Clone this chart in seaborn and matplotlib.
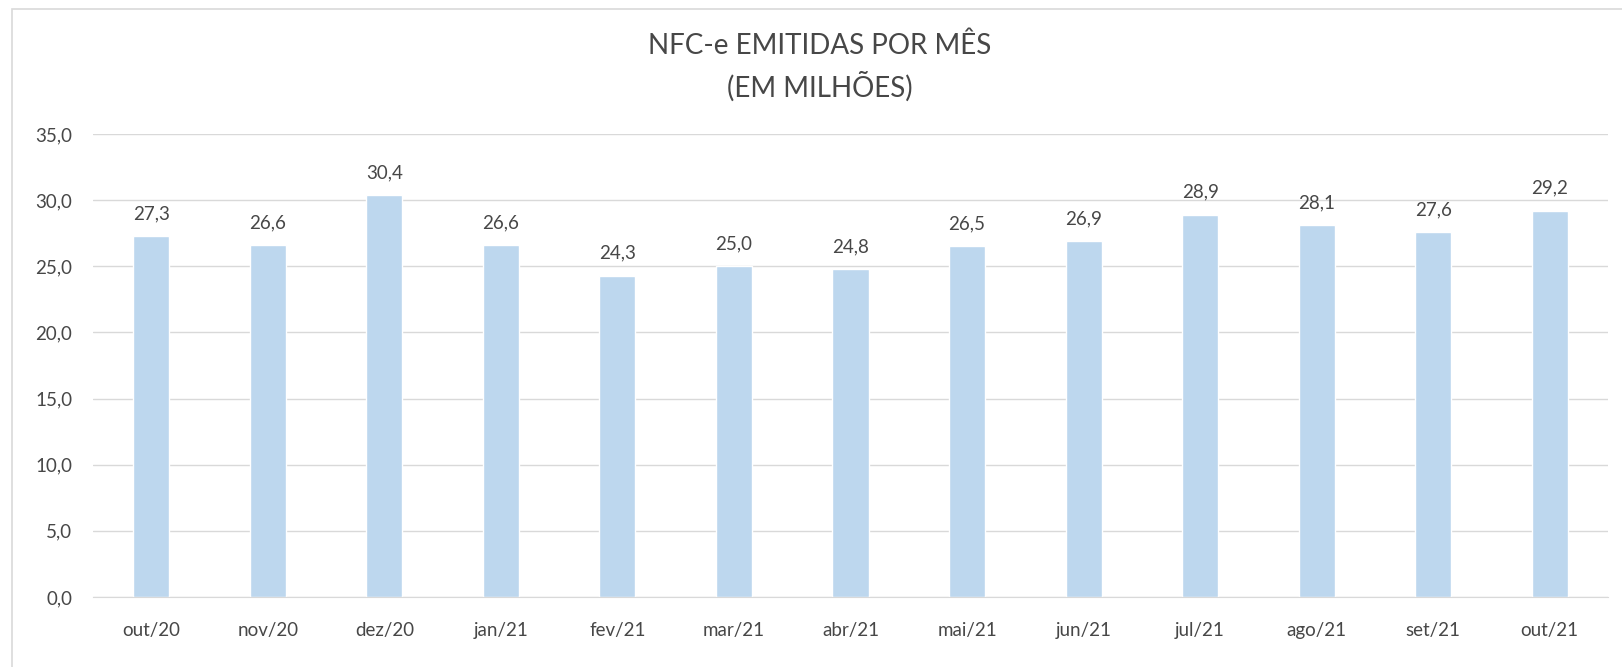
import pandas as pd
import seaborn as sns
import matplotlib.pyplot as plt
from matplotlib.patches import Rectangle

# dados do grafico
meses = ['out/20', 'nov/20', 'dez/20', 'jan/21', 'fev/21', 'mar/21', 'abr/21',
         'mai/21', 'jun/21', 'jul/21', 'ago/21', 'set/21', 'out/21']
nfce = [27.3, 26.6, 30.4, 26.6, 24.3, 25.0, 24.8, 26.5, 26.9, 28.9, 28.1, 27.6, 29.2]
yticks = [0, 5, 10, 15, 20, 25, 30, 35]

df = pd.DataFrame({'mes': meses, 'valor': nfce})

sns.set_style('white')
plt.rcParams['font.family'] = ['Lato', 'DejaVu Sans']

cor_texto = '#474747'
cor_barra = '#BDD7EE'

fig = plt.figure(figsize=(16.22, 6.67), dpi=100)
ax = fig.add_axes([93 / 1622, 1 - 597 / 667, (1608 - 93) / 1622, (597 - 134) / 667])

sns.barplot(data=df, x='mes', y='valor', color=cor_barra, width=0.31,
            saturation=1, ax=ax)

ax.set_ylim(0, 35)
ax.set_xlim(-0.5, len(meses) - 0.5)
ax.set_yticks(yticks)
ax.set_yticklabels([f'{v:.1f}'.replace('.', ',') for v in yticks])
ax.grid(axis='y', color='#D9D9D9', linewidth=1)
ax.set_axisbelow(True)
for s in ['top', 'right', 'left']:
    ax.spines[s].set_visible(False)
ax.spines['bottom'].set_color('#D9D9D9')
ax.tick_params(axis='y', length=0, pad=15, labelsize=13.5, labelcolor=cor_texto)
ax.tick_params(axis='x', length=0, pad=18, labelsize=13.5, labelcolor=cor_texto)
ax.set_xlabel('')
ax.set_ylabel('')

# rotulos de dados
for i, v in enumerate(nfce):
    ax.annotate(f'{v:.1f}'.replace('.', ','), (i, v), xytext=(0, 10),
                textcoords='offset points', ha='center', va='bottom',
                fontsize=13.5, color=cor_texto)

fig.text(820 / 1622, 1 - 46 / 667, 'NFC-e EMITIDAS POR MÊS', ha='center', va='center',
         fontsize=20, color=cor_texto)
fig.text(820 / 1622, 1 - 87 / 667, '(EM MILHÕES)', ha='center', va='center',
         fontsize=20, color=cor_texto)

# borda do grafico
fig.patches.append(Rectangle((12 / 1622, -0.01), 1.02, 1 - 9 / 667 + 0.01,
                             transform=fig.transFigure, fill=False,
                             edgecolor='#D9D9D9', linewidth=1.2))

fig.savefig('out.png', dpi=100)
